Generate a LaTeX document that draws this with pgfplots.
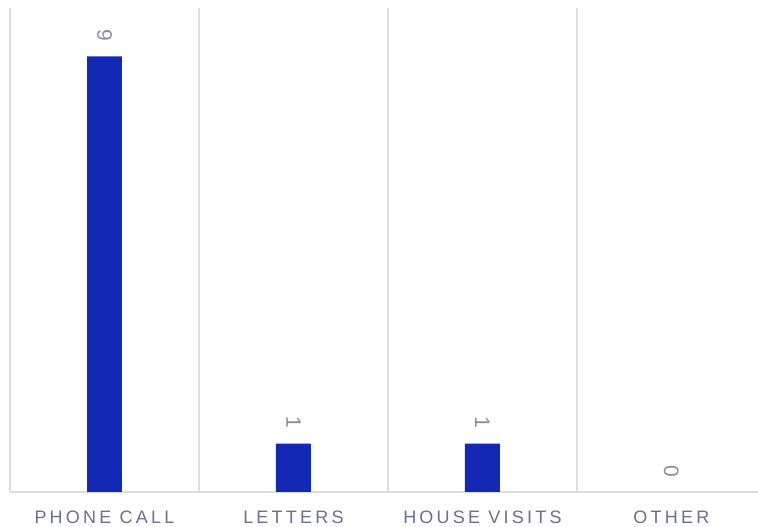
\documentclass[border=0pt]{standalone}
\usepackage{pgfplots}
\pgfplotsset{compat=1.18}
\usepackage{fontspec}
\setmainfont{Liberation Sans}
\newfontfamily\lblfont[LetterSpace=18]{Liberation Sans}
\definecolor{barc}{HTML}{1229B5}
\definecolor{gridc}{HTML}{DCDCE3}
\definecolor{txtc}{HTML}{6E6E8C}
\definecolor{valc}{HTML}{8A8AA2}
\begin{document}
\begin{tikzpicture}
\begin{axis}[
  scale only axis,
  width=748pt, height=484pt,
  ybar, bar width=0.185, bar shift=0pt,
  xmin=-0.5, xmax=3.458,
  ymin=0, ymax=10,
  axis x line*=bottom,
  axis y line=none,
  x axis line style={-, draw=gridc, line width=2pt},
  xtick={0,1,2,3},
  xticklabels={PHONE CALL,LETTERS,HOUSE VISITS,OTHER},
  major tick length=0pt,
  minor tick length=0pt,
  minor xtick={-0.5,0.5,1.5,2.5},
  xminorgrids=true,
  minor grid style={draw=gridc, line width=2pt},
  xticklabel style={font=\lblfont\fontsize{18}{20}\selectfont, text=txtc, yshift=-15pt, anchor=north},
  /pgf/number format/assume math mode=true,
  nodes near coords,
  every node near coord/.append style={font=\fontsize{21}{23}\selectfont, text=valc, rotate=-90, anchor=east, inner xsep=15pt, inner ysep=0pt},
  clip=false,
]
\addplot[fill=barc, draw=none] coordinates {(0,9) (1,1) (2,1)};
\addplot[fill=none, draw=none] coordinates {(3,0)};
\end{axis}
\pgfresetboundingbox
\path[use as bounding box] ([xshift=-10pt,yshift=-35pt]current axis.south west) rectangle ([yshift=8pt]current axis.north east);
\end{tikzpicture}
\end{document}
